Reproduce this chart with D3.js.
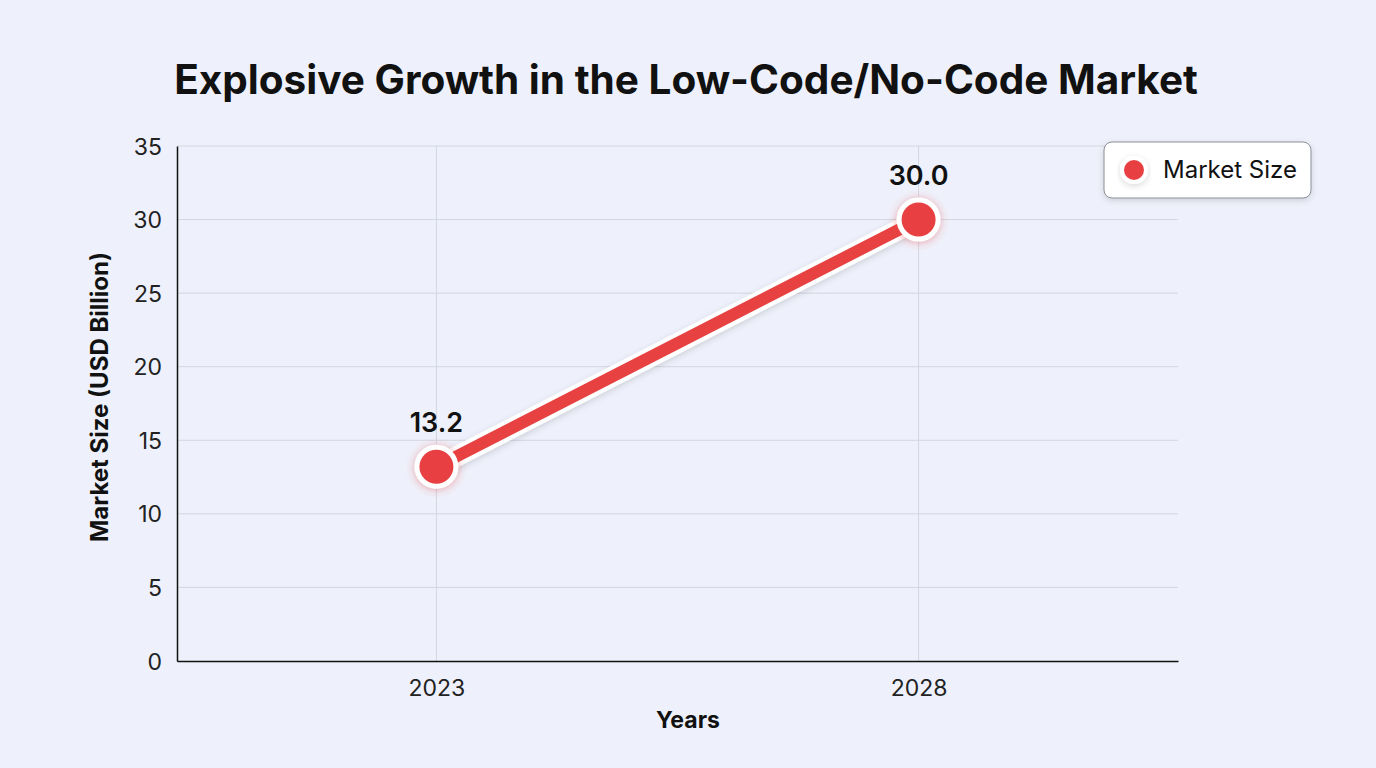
<!DOCTYPE html>
<html lang="en">
<head>
<meta charset="UTF-8">
<title>Low-Code/No-Code Market</title>
<script src="https://d3js.org/d3.v7.min.js"></script>
<style>
  html, body { margin: 0; padding: 0; background: #eef1fb; }
  body { font-family: Inter, "Noto Sans", Arial, sans-serif; }
  svg { display: block; }
</style>
</head>
<body>
<svg id="chart" width="1376" height="768"></svg>
<script>
// data
const years = ["2023", "2028"];
const marketSize = [13.2, 30.0];
const yTicks = [0, 5, 10, 15, 20, 25, 30, 35];
const seriesName = "Market Size";

const W = 1376, H = 768;
const m = { left: 177, right: 198, top: 146, bottom: 107 };
const red = "#e84142";

const svg = d3.select("#chart");
const defs = svg.append("defs");

const glow = defs.append("filter").attr("id", "glow")
  .attr("x", "-50%").attr("y", "-50%").attr("width", "200%").attr("height", "200%");
glow.append("feDropShadow").attr("dx", 0).attr("dy", 1).attr("stdDeviation", 4)
  .attr("flood-color", red).attr("flood-opacity", 0.45);

const shadow = defs.append("filter").attr("id", "shadow")
  .attr("x", "-20%").attr("y", "-30%").attr("width", "140%").attr("height", "160%");
shadow.append("feDropShadow").attr("dx", 0).attr("dy", 2).attr("stdDeviation", 3)
  .attr("flood-color", "#000").attr("flood-opacity", 0.15);

const x = d3.scalePoint().domain(years).range([m.left, W - m.right]).padding(0.538);
const y = d3.scaleLinear().domain([0, 35]).range([H - m.bottom, m.top]);

// title
svg.append("text")
  .attr("x", 686).attr("y", 94)
  .attr("text-anchor", "middle")
  .style("font-size", "40.5px").style("font-weight", 700).style("fill", "#111")
  .text("Explosive Growth in the Low-Code/No-Code Market");

// grid
svg.append("g").selectAll("line").data(yTicks.slice(1)).join("line")
  .attr("x1", m.left).attr("x2", W - m.right)
  .attr("y1", d => y(d)).attr("y2", d => y(d))
  .attr("stroke", "#d3d6e0").attr("stroke-width", 1);
svg.append("g").selectAll("line").data(years).join("line")
  .attr("x1", d => x(d)).attr("x2", d => x(d))
  .attr("y1", m.top).attr("y2", H - m.bottom)
  .attr("stroke", "#d3d6e0").attr("stroke-width", 1);

// axes
const yAxis = svg.append("g").attr("transform", `translate(${m.left},0)`)
  .call(d3.axisLeft(y).tickValues(yTicks).tickSize(0).tickPadding(15));
const xAxis = svg.append("g").attr("transform", `translate(0,${H - m.bottom})`)
  .call(d3.axisBottom(x).tickSize(0).tickPadding(19));
[yAxis, xAxis].forEach(g => {
  g.select(".domain").attr("stroke", "#111").attr("stroke-width", 1.5);
  g.selectAll("text").style("font-size", "23px").style("fill", "#222")
    .style("font-family", "Inter, sans-serif");
});
yAxis.selectAll("text").attr("dy", "0.35em");

// axis titles
svg.append("text")
  .attr("transform", `translate(108,397) rotate(-90)`)
  .attr("text-anchor", "middle")
  .style("font-size", "24px").style("font-weight", 700).style("fill", "#111")
  .text("Market Size (USD Billion)");
svg.append("text")
  .attr("x", 688).attr("y", 728)
  .attr("text-anchor", "middle")
  .style("font-size", "23px").style("font-weight", 700).style("fill", "#111")
  .text("Years");

// line
const pts = years.map((d, i) => ({ year: d, value: marketSize[i] }));
const line = d3.line().x(d => x(d.year)).y(d => y(d.value));
svg.append("path").datum(pts).attr("d", line)
  .attr("fill", "none").attr("stroke", "#fff").attr("stroke-width", 20)
  .attr("stroke-linecap", "round").attr("filter", "url(#shadow)");
svg.append("path").datum(pts).attr("d", line)
  .attr("fill", "none").attr("stroke", red).attr("stroke-width", 12)
  .attr("stroke-linecap", "round");

// points
svg.append("g").selectAll("circle").data(pts).join("circle")
  .attr("cx", d => x(d.year)).attr("cy", d => y(d.value)).attr("r", 19.5)
  .attr("fill", red).attr("stroke", "#fff").attr("stroke-width", 5)
  .attr("filter", "url(#glow)");

// value labels
svg.append("g").selectAll("text").data(pts).join("text")
  .attr("x", d => x(d.year)).attr("y", d => y(d.value) - 35)
  .attr("text-anchor", "middle")
  .style("font-size", "27px").style("font-weight", 600).style("fill", "#111")
  .text(d => d.value.toFixed(1));

// legend
const lg = svg.append("g").attr("transform", "translate(1104,142)");
lg.append("rect").attr("width", 207).attr("height", 56).attr("rx", 8)
  .attr("fill", "#fff").attr("stroke", "#8a8d96").attr("stroke-width", 1)
  .attr("filter", "url(#shadow)");
lg.append("circle").attr("cx", 30).attr("cy", 28).attr("r", 12)
  .attr("fill", red).attr("stroke", "#fff").attr("stroke-width", 4)
  .attr("filter", "url(#shadow)");
lg.append("text").attr("x", 59).attr("y", 28).attr("dy", "0.35em")
  .style("font-size", "24px").style("fill", "#111")
  .text(seriesName);
</script>
</body>
</html>
